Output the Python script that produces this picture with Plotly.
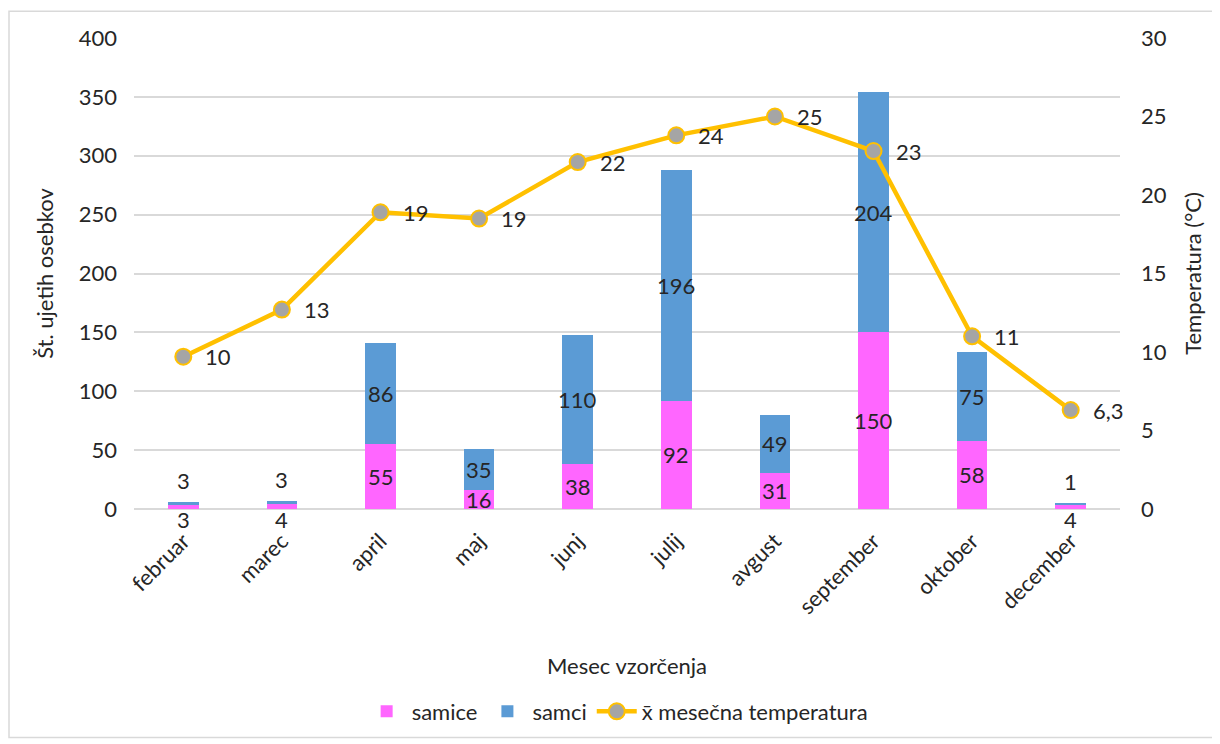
import plotly.graph_objects as go

months = ["februar", "marec", "april", "maj", "junj", "julij", "avgust", "september", "oktober", "december"]
samice = [3, 4, 55, 16, 38, 92, 31, 150, 58, 4]
samci = [3, 3, 86, 35, 110, 196, 49, 204, 75, 1]
temp = [9.7, 12.7, 18.9, 18.5, 22.1, 23.8, 25.0, 22.8, 11.0, 6.3]
temp_labels = ["10", "13", "19", "19", "22", "24", "25", "23", "11", "6,3"]

PINK = "#FF66FF"
BLUE = "#5B9BD5"
GOLD = "#FFC000"
GREY = "#A5A5A5"
TXT = "#262626"
FONT = "Lato"
FS = 22

fig = go.Figure()
fig.add_trace(go.Bar(x=months, y=samice, name="samice", marker=dict(color=PINK, line=dict(width=0)),
                     width=0.31, textposition="none"))
fig.add_trace(go.Bar(x=months, y=samci, name="samci", marker=dict(color=BLUE, line=dict(width=0)),
                     width=0.31, textposition="none"))
fig.add_trace(go.Scatter(x=months, y=temp, name="x̄ mesečna temperatura", yaxis="y2",
                         mode="lines+markers",
                         line=dict(color=GOLD, width=4.5),
                         marker=dict(size=16, color=GREY, line=dict(color=GOLD, width=2))))

ann = []
for m, f, mm in zip(months, samice, samci):
    if f >= 10:
        ann.append(dict(x=m, y=f / 2, text=str(f), yanchor="middle", yref="y"))
    else:
        ann.append(dict(x=m, y=0, text=str(f), yanchor="top", yshift=5, yref="y"))
    if mm >= 10:
        ann.append(dict(x=m, y=f + mm / 2, text=str(mm), yanchor="middle", yref="y"))
    else:
        ann.append(dict(x=m, y=f + mm, text=str(mm), yanchor="bottom", yshift=6, yref="y"))
for m, t, lab in zip(months, temp, temp_labels):
    ann.append(dict(x=m, y=t, text=lab, yanchor="middle", xanchor="left", xshift=20, yref="y2"))
for a in ann:
    a.update(xref="x", showarrow=False, font=dict(size=FS, color=TXT, family=FONT))

fig.update_layout(
    barmode="stack",
    width=1212, height=736,
    margin=dict(l=126, r=100, t=30, b=232),
    paper_bgcolor="white", plot_bgcolor="white",
    font=dict(family=FONT, size=FS, color=TXT),
    annotations=ann,
    showlegend=True,
    legend=dict(orientation="h", x=0.49, xanchor="center", y=-0.43, yanchor="middle",
                font=dict(size=FS, color=TXT, family=FONT), traceorder="normal",
                itemwidth=40),
    xaxis=dict(range=[-0.5, len(months) - 0.5], tickangle=-45, tickfont=dict(size=FS, color=TXT),
               showgrid=False, showline=False, zeroline=False, automargin=False,
               ticklabelstandoff=14,
               title=dict(text="Mesec vzorčenja", font=dict(size=FS, color=TXT), standoff=40)),
    yaxis=dict(range=[0, 400], dtick=50, showgrid=True, gridcolor="#D9D9D9", gridwidth=1.5,
               zeroline=True, zerolinecolor="#D9D9D9", zerolinewidth=1.5, automargin=False,
               tickfont=dict(size=FS, color=TXT), ticklabelstandoff=16,
               title=dict(text="Št. ujetih osebkov", font=dict(size=FS, color=TXT), standoff=19)),
    yaxis2=dict(range=[0, 30], dtick=5, overlaying="y", side="right", showgrid=False,
                zeroline=False, tickfont=dict(size=FS, color=TXT), ticklabelstandoff=20,
                automargin=False,
                title=dict(text="Temperatura (°C)", font=dict(size=FS, color=TXT), standoff=19)),
    shapes=[dict(type="rect", xref="paper", yref="paper",
                 x0=(1 - 126) / 986, x1=(1206 - 126) / 986,
                 y0=(504 - 734) / 474, y1=(504 - 3) / 474,
                 line=dict(color="#D9D9D9", width=1.5), fillcolor="rgba(0,0,0,0)", layer="below")],
)

fig.write_html("out.html")
